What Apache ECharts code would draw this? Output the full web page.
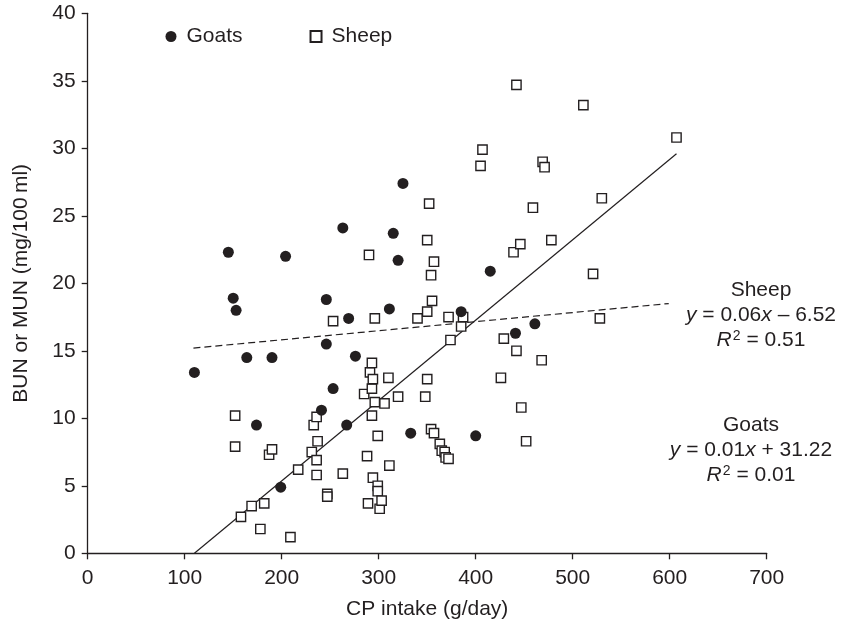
<!DOCTYPE html>
<html><head><meta charset="utf-8">
<script src="https://cdn.jsdelivr.net/npm/echarts@6/dist/echarts.min.js"></script>
<style>html,body{margin:0;padding:0;background:#fff}#c{width:845px;height:627px}</style>
</head><body><div id="c"></div>
<script>
// ---- data ----
const goats = [
  [110,13.4],[145,22.3],[150,18.9],[153,18.0],[164,14.5],[174,9.5],[190,14.5],[199,4.9],
  [204,22.0],[241,10.6],[246,18.8],[246,15.5],[253,12.2],[263,24.1],[267,9.5],[269,17.4],
  [276,14.6],[311,18.1],[315,23.7],[320,21.7],[325,27.4],[333,8.9],[385,17.9],[400,8.7],
  [415,20.9],[441,16.3],[461,17.0]
];
const sheep = [
  [152,10.2],[152,7.9],[158,2.7],[169,3.5],[178,1.8],[182,3.7],[187,7.3],[190,7.7],
  [209,1.2],[217,6.2],[231,7.5],[233,9.5],[236,10.1],[236,6.9],[236,5.8],[237,8.3],
  [247,4.4],[247,4.2],[253,17.2],[263,5.9],[285,11.8],[288,7.2],[289,3.7],[290,22.1],
  [291,13.4],[293,14.1],[293,12.2],[293,10.2],[294,12.9],[294,5.6],[296,17.4],[296,11.2],
  [299,8.7],[299,5.0],[299,4.6],[301,3.3],[303,3.9],[306,11.1],[310,13.0],[311,6.5],
  [320,11.6],[340,17.4],[348,11.6],[350,23.2],[350,17.9],[350,12.9],[352,25.9],[354,20.6],
  [354,9.2],[355,18.7],[357,21.6],[357,8.9],[363,8.1],[365,7.6],[368,7.5],[369,7.1],
  [372,7.0],[372,17.5],[374,15.8],[385,16.8],[387,17.5],[405,28.7],[407,29.9],[426,13.0],
  [429,15.9],[439,22.3],[442,34.7],[442,15.0],[446,22.9],[447,10.8],[452,8.3],[459,25.6],
  [468,14.3],[469,29.0],[471,28.6],[478,23.2],[511,33.2],[521,20.7],[528,17.4],[530,26.3],
  [607,30.8]
];
const solidFit = [[110,0],[607,29.6]];
const dashedFit = [[109,15.2],[599,18.5]];
const seriesNames = ['Goats','Sheep'];
const xTitle = 'CP intake (g/day)';
const yTitle = 'BUN or MUN (mg/100\u2009ml)';
const sheepEq = ['Sheep','{i|y} = 0.06{i|x} \u2013 6.52','{i|R}{s|2} = 0.51'];
const goatsEq = ['Goats','{i|y} = 0.01{i|x} + 31.22','{i|R}{s|2} = 0.01'];

// ---- chart ----
const INK = '#231f20';
const FONT = '"Liberation Sans", Arial, Helvetica, sans-serif';
const FS = 21;
const chart = echarts.init(document.getElementById('c'), null, {renderer:'canvas'});
const rich = {
  n:{fontSize:FS,fontFamily:FONT,fill:INK},
  i:{fontSize:FS,fontFamily:FONT,fontStyle:'italic',fill:INK},
  s:{fontSize:14,fontFamily:FONT,fill:INK,verticalAlign:'top',padding:[0,0,0,1]}
};
function eqBlock(lines, cx, y0) {
  return lines.map((t, k) => ({
    type:'text', x: cx, y: y0 + k*25, z: 10,
    style:{text:t, rich:rich, fontSize:FS, fontFamily:FONT, fill:INK,
           align:'center', verticalAlign:'middle'}
  }));
}
const axisCommon = {
  axisLine:{show:true, lineStyle:{color:INK, width:1.3}},
  axisTick:{show:true, inside:false, length:6, lineStyle:{color:INK, width:1.3}},
  splitLine:{show:false},
  axisLabel:{color:INK, fontSize:FS, fontFamily:FONT},
  nameTextStyle:{color:INK, fontSize:FS, fontFamily:FONT},
  nameLocation:'middle'
};
chart.setOption({
  animation:false,
  backgroundColor:'#fff',
  textStyle:{fontFamily:FONT},
  grid:{left:87.7, right:78.3, top:13.3, bottom:73.7, containLabel:false},
  legend:{
    data:seriesNames, left:165.5, top:26, padding:0,
    itemWidth:11, itemHeight:11, itemGap:67,
    textStyle:{color:INK, fontSize:FS, fontFamily:FONT, padding:[0,0,0,5]}
  },
  xAxis:Object.assign({}, axisCommon, {
    type:'value', min:0, max:700, interval:100, name:xTitle, nameGap:45,
    axisLabel:Object.assign({}, axisCommon.axisLabel, {margin:14})
  }),
  yAxis:Object.assign({}, axisCommon, {
    type:'value', min:0, max:40, interval:5, name:yTitle, nameGap:56, nameRotate:90,
    axisLabel:Object.assign({}, axisCommon.axisLabel, {margin:12})
  }),
  graphic: eqBlock(sheepEq, 761, 290).concat(eqBlock(goatsEq, 751, 425)),
  series:[
    {name:'Goats', type:'scatter', data:goats, symbol:'circle', symbolSize:11, z:5,
     itemStyle:{color:INK, opacity:1}},
    {name:'Sheep', type:'scatter', data:sheep, symbol:'rect', symbolSize:9.3, z:4,
     itemStyle:{color:'#fff', borderColor:INK, borderWidth:1.4, opacity:1}},
    {name:'solidFit', type:'line', data:solidFit, symbol:'none', silent:true, z:2,
     lineStyle:{color:INK, width:1.2, type:'solid'}},
    {name:'dashedFit', type:'line', data:dashedFit, symbol:'none', silent:true, z:2,
     lineStyle:{color:INK, width:1.2, type:[7,4]}}
  ]
});
</script>
</body></html>
